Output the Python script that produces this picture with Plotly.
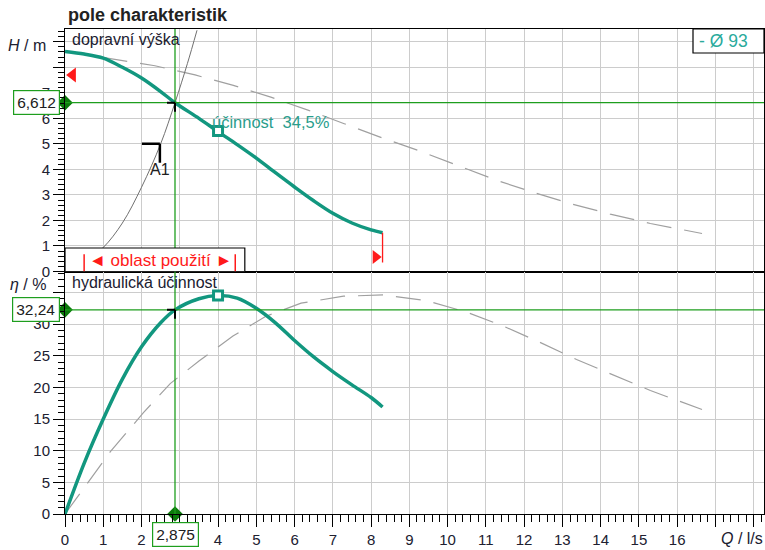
import plotly.graph_objects as go

# ---------------- data ----------------
Q_H = [0, 0.5, 1, 1.5, 2, 2.5, 2.875, 3.5, 4, 4.5, 5, 5.5, 6, 6.5, 7, 7.5, 8, 8.3]
H = [8.62, 8.52, 8.36, 8.0, 7.58, 7.05, 6.612, 6.0, 5.48, 4.97, 4.44, 3.87, 3.31, 2.77, 2.28, 1.9, 1.63, 1.52]

Q_Hd = [0, 1.37, 2.35, 3.4, 4.4, 5.38, 6.37, 7.3, 8.3, 9.29, 10.28, 11.27, 12.26, 13.26, 14.25, 15.3, 16.65]
H_d = [8.62, 8.31, 8.06, 7.7, 7.29, 6.83, 6.31, 5.79, 5.23, 4.71, 4.13, 3.58, 3.09, 2.64, 2.25, 1.88, 1.49]

Q_sys = [0, 0.5, 1, 1.5, 2, 2.5, 2.875, 3.2, 3.45]
H_sys = [0.16, 0.36, 0.94, 1.9, 3.3, 5.0, 6.612, 8.15, 9.45]

Q_eta = [0, 0.5, 1, 1.5, 2, 2.5, 2.875, 3.5, 4, 4.5, 5, 5.5, 6, 6.5, 7, 7.5, 8, 8.3]
eta = [0, 8.0, 15.0, 21.3, 26.4, 30.2, 32.24, 34.0, 34.5, 34.1, 32.5, 30.2, 27.4, 24.8, 22.5, 20.4, 18.4, 16.9]

Q_etad = [0, 0.42, 1.18, 2.05, 2.75, 3.51, 4.39, 5.24, 6.17, 7.28, 8.33, 9.44, 10.49, 11.45, 12.38, 13.37, 14.34, 15.3, 16.65]
eta_d = [0, 3.5, 9.8, 16.0, 20.6, 24.2, 28.1, 31.2, 33.3, 34.4, 34.6, 33.7, 31.9, 29.7, 27.2, 24.4, 21.9, 19.5, 16.5]

Q_op, H_op, eta_op = 2.875, 6.612, 32.24
Q_bep, H_bep, eta_bep = 4.0, 5.5, 34.5
Q_A1, H_A1 = 2.48, 5.0
Q_min, Q_max = 0.5, 8.3
Q_range_end = 4.45
H_max_mark = 7.7
H_min_mark = 0.57

x_ticks = list(range(0, 19))
x_labels = [str(v) if v <= 16 else "" for v in x_ticks]
H_ticks = list(range(0, 10))
H_labels = [str(v) if v <= 7 else "" for v in H_ticks]
eta_ticks = list(range(0, 40, 5))
eta_labels = [str(v) if v <= 30 else "" for v in eta_ticks]

X_MAX = 18.27
H_RANGE = [0, 9.5]
ETA_RANGE = [0, 38.3]

TEAL = "#12977f"
GREEN = "#1e9e1e"
DKGREEN = "#0b7a0b"
RED = "#ff1a1a"
GRID = "#cccccc"
TXT = "#202030"
FONT = "Liberation Sans, Arial, sans-serif"

fig = go.Figure()

# top plot
fig.add_trace(go.Scatter(x=Q_Hd, y=H_d, mode="lines", line=dict(color="#a0a0a0", width=1.2, dash="25px,13px"),
                         xaxis="x", yaxis="y", hoverinfo="skip"))
fig.add_trace(go.Scatter(x=Q_sys, y=H_sys, mode="lines", line=dict(color="#707070", width=1, shape="spline"),
                         xaxis="x", yaxis="y", hoverinfo="skip"))
fig.add_trace(go.Scatter(x=Q_H, y=H, mode="lines", line=dict(color=TEAL, width=3.5, shape="spline", smoothing=0.9),
                         xaxis="x", yaxis="y"))
fig.add_trace(go.Scatter(x=[Q_bep], y=[H_bep], mode="markers",
                         marker=dict(symbol="square", size=9, color="white", line=dict(color=TEAL, width=3)),
                         xaxis="x", yaxis="y"))
# bottom plot
fig.add_trace(go.Scatter(x=Q_etad, y=eta_d, mode="lines", line=dict(color="#a0a0a0", width=1.2, dash="25px,13px"),
                         xaxis="x2", yaxis="y2", hoverinfo="skip"))
fig.add_trace(go.Scatter(x=Q_eta, y=eta, mode="lines", line=dict(color=TEAL, width=3.5, shape="spline", smoothing=0.9),
                         xaxis="x2", yaxis="y2"))
fig.add_trace(go.Scatter(x=[Q_bep], y=[eta_bep], mode="markers",
                         marker=dict(symbol="square", size=9, color="white", line=dict(color=TEAL, width=3)),
                         xaxis="x2", yaxis="y2"))

shapes = []
# green operating-point lines
shapes.append(dict(type="line", xref="x", yref="y", x0=0, x1=X_MAX, y0=H_op, y1=H_op,
                   line=dict(color=GREEN, width=1.3)))
shapes.append(dict(type="line", xref="x2", yref="y2", x0=0, x1=X_MAX, y0=eta_op, y1=eta_op,
                   line=dict(color=GREEN, width=1.3)))
shapes.append(dict(type="line", xref="x2", yref="paper", x0=Q_op, x1=Q_op, y0=0, y1=1,
                   line=dict(color=GREEN, width=1.3)))
# black corner marks
for yr, yv in (("y", H_op), ("y2", eta_op)):
    xr = "x" if yr == "y" else "x2"
    shapes.append(dict(type="line", xref=xr, yref=yr, xsizemode="pixel", xanchor=Q_op, x0=-8, x1=0,
                       y0=yv, y1=yv, line=dict(color="black", width=2)))
    shapes.append(dict(type="line", xref=xr, yref=yr, ysizemode="pixel", yanchor=yv, y0=0, y1=-9,
                       x0=Q_op, x1=Q_op, line=dict(color="black", width=2)))
shapes.append(dict(type="line", xref="x", yref="y", xsizemode="pixel", xanchor=Q_A1, x0=-18, x1=0,
                   y0=H_A1, y1=H_A1, line=dict(color="black", width=2.5)))
shapes.append(dict(type="line", xref="x", yref="y", ysizemode="pixel", yanchor=H_A1, y0=0, y1=-19,
                   x0=Q_A1, x1=Q_A1, line=dict(color="black", width=2.5)))
# red end line
shapes.append(dict(type="line", xref="x", yref="y", x0=Q_max, x1=Q_max, y0=H[-1], y1=0.35,
                   line=dict(color=RED, width=1.3)))
# usage range box
shapes.append(dict(type="rect", xref="x", yref="y", x0=0, x1=4.7, y0=0, y1=0.92, layer="above",
                   fillcolor="white", line=dict(color="black", width=1.2)))
for qv in (Q_min, Q_range_end):
    shapes.append(dict(type="line", xref="x", yref="y", x0=qv, x1=qv, y0=0.0, y1=0.68, layer="above",
                       line=dict(color=RED, width=1.5)))
# diameter legend box (top right)
shapes.append(dict(type="rect", xref="paper", yref="paper", xsizemode="pixel", ysizemode="pixel",
                   xanchor=1, yanchor=1, x0=-71, x1=0, y0=-24, y1=0, layer="above",
                   fillcolor="white", line=dict(color="black", width=1.2)))

annotations = []
def ann(**kw):
    d = dict(showarrow=False, font=dict(family=FONT, size=16, color=TXT))
    d.update(kw)
    annotations.append(d)

ann(text="<b>pole charakteristik</b>", xref="paper", yref="paper", x=0, y=1, xanchor="left", yanchor="bottom",
    xshift=1, yshift=2, font=dict(family=FONT, size=18, color="#222222"))
ann(text="<i>H</i> / m", xref="paper", yref="y", x=0, y=8.85, xanchor="right", xshift=-17)
ann(text="<i>η</i> / %", xref="paper", yref="y2", x=0, y=36.2, xanchor="right", xshift=-17)
ann(text="dopravní výška", xref="paper", yref="y", x=0, y=9.08, xanchor="left", xshift=5)
ann(text="hydraulická účinnost", xref="paper", yref="y2", x=0, y=36.5, xanchor="left", xshift=5)
ann(text="účinnost  34,5%", xref="x", yref="y", x=Q_bep, y=H_bep, xanchor="left", xshift=-8, yshift=9,
    font=dict(family=FONT, size=16.5, color="#2a9d8c"))
ann(text="A1", xref="x", yref="y", x=Q_A1, y=H_A1, yshift=-26, font=dict(family=FONT, size=16, color="#202020"))
ann(text="<i>Q</i> / l/s", xref="x2", yref="paper", x=17.7, y=0, yanchor="top", yshift=-14)
ann(text="- Ø 93", xref="paper", yref="paper", x=1, y=1, xanchor="left", yanchor="middle",
    xshift=-67, yshift=-12, font=dict(family=FONT, size=17.5, color="#2aaa9c"))
ann(text="◄ oblast použití ►", xref="x", yref="y", x=2.5, y=0.45, font=dict(family=FONT, size=17, color=RED))
# value boxes
box = dict(bgcolor="white", bordercolor=GREEN, borderwidth=1.2, borderpad=3,
           font=dict(family=FONT, size=15.5, color="#202020"))
ann(text="6,612", xref="x", yref="y", x=0, y=H_op, xshift=-29, **box)
ann(text="32,24", xref="x2", yref="y2", x=0, y=eta_op, xshift=-29, **box)
ann(text="2,875", xref="x2", yref="y2", x=Q_op, y=0, yshift=-20, **box)

# markers on axes (diamonds, red triangles)
fig.add_trace(go.Scatter(x=[0], y=[H_op], mode="markers", marker=dict(symbol="diamond", size=12, color=DKGREEN),
                         xaxis="x", yaxis="y", cliponaxis=False))
fig.add_trace(go.Scatter(x=[0], y=[eta_op], mode="markers", marker=dict(symbol="diamond", size=12, color=DKGREEN),
                         xaxis="x2", yaxis="y2", cliponaxis=False))
fig.add_trace(go.Scatter(x=[Q_op], y=[0], mode="markers", marker=dict(symbol="diamond", size=12, color=DKGREEN),
                         xaxis="x2", yaxis="y2", cliponaxis=False))
fig.add_trace(go.Scatter(x=[0.2], y=[H_max_mark], mode="markers",
                         marker=dict(symbol="triangle-left", size=13, color=RED),
                         xaxis="x", yaxis="y", cliponaxis=False))
fig.add_trace(go.Scatter(x=[8.12], y=[H_min_mark], mode="markers",
                         marker=dict(symbol="triangle-right", size=12, color=RED),
                         xaxis="x", yaxis="y", cliponaxis=False))

tickfont = dict(family=FONT, size=15, color=TXT)
common = dict(showline=True, linecolor="black", linewidth=1, mirror=True, zeroline=False,
              gridcolor=GRID, gridwidth=1, tickfont=tickfont, fixedrange=True)
fig.update_layout(
    width=765, height=550,
    margin=dict(l=65, r=1, t=29, b=36),
    paper_bgcolor="white", plot_bgcolor="white",
    showlegend=False,
    shapes=shapes, annotations=annotations,
    xaxis=dict(domain=[0, 1], anchor="y", range=[0, X_MAX], tickmode="array", tickvals=x_ticks,
               showticklabels=False, ticks="", **common),
    yaxis=dict(domain=[0.5, 1], anchor="x", range=H_RANGE, tickmode="array", tickvals=H_ticks, ticktext=H_labels,
               ticks="outside", ticklen=11, tickcolor="black",
               minor=dict(tickmode="linear", tick0=0, dtick=0.2, ticks="outside", ticklen=6, tickcolor="black",
                          showgrid=False), **common),
    xaxis2=dict(domain=[0, 1], anchor="y2", range=[0, X_MAX], tickmode="array", tickvals=x_ticks,
                ticktext=x_labels, ticks="outside", ticklen=12, tickcolor="black",
                minor=dict(tickmode="linear", tick0=0, dtick=0.2, ticks="outside", ticklen=7, tickcolor="black",
                           showgrid=False), **common),
    yaxis2=dict(domain=[0, 0.5], anchor="x2", range=ETA_RANGE, tickmode="array", tickvals=eta_ticks,
                ticktext=eta_labels, ticks="outside", ticklen=11, tickcolor="black",
                minor=dict(tickmode="linear", tick0=0, dtick=1, ticks="outside", ticklen=6, tickcolor="black",
                           showgrid=False), **common),
)

fig.write_html("out.html", config={"displayModeBar": False},
               post_script="document.body.style.margin='0';document.body.style.overflow='hidden';")
